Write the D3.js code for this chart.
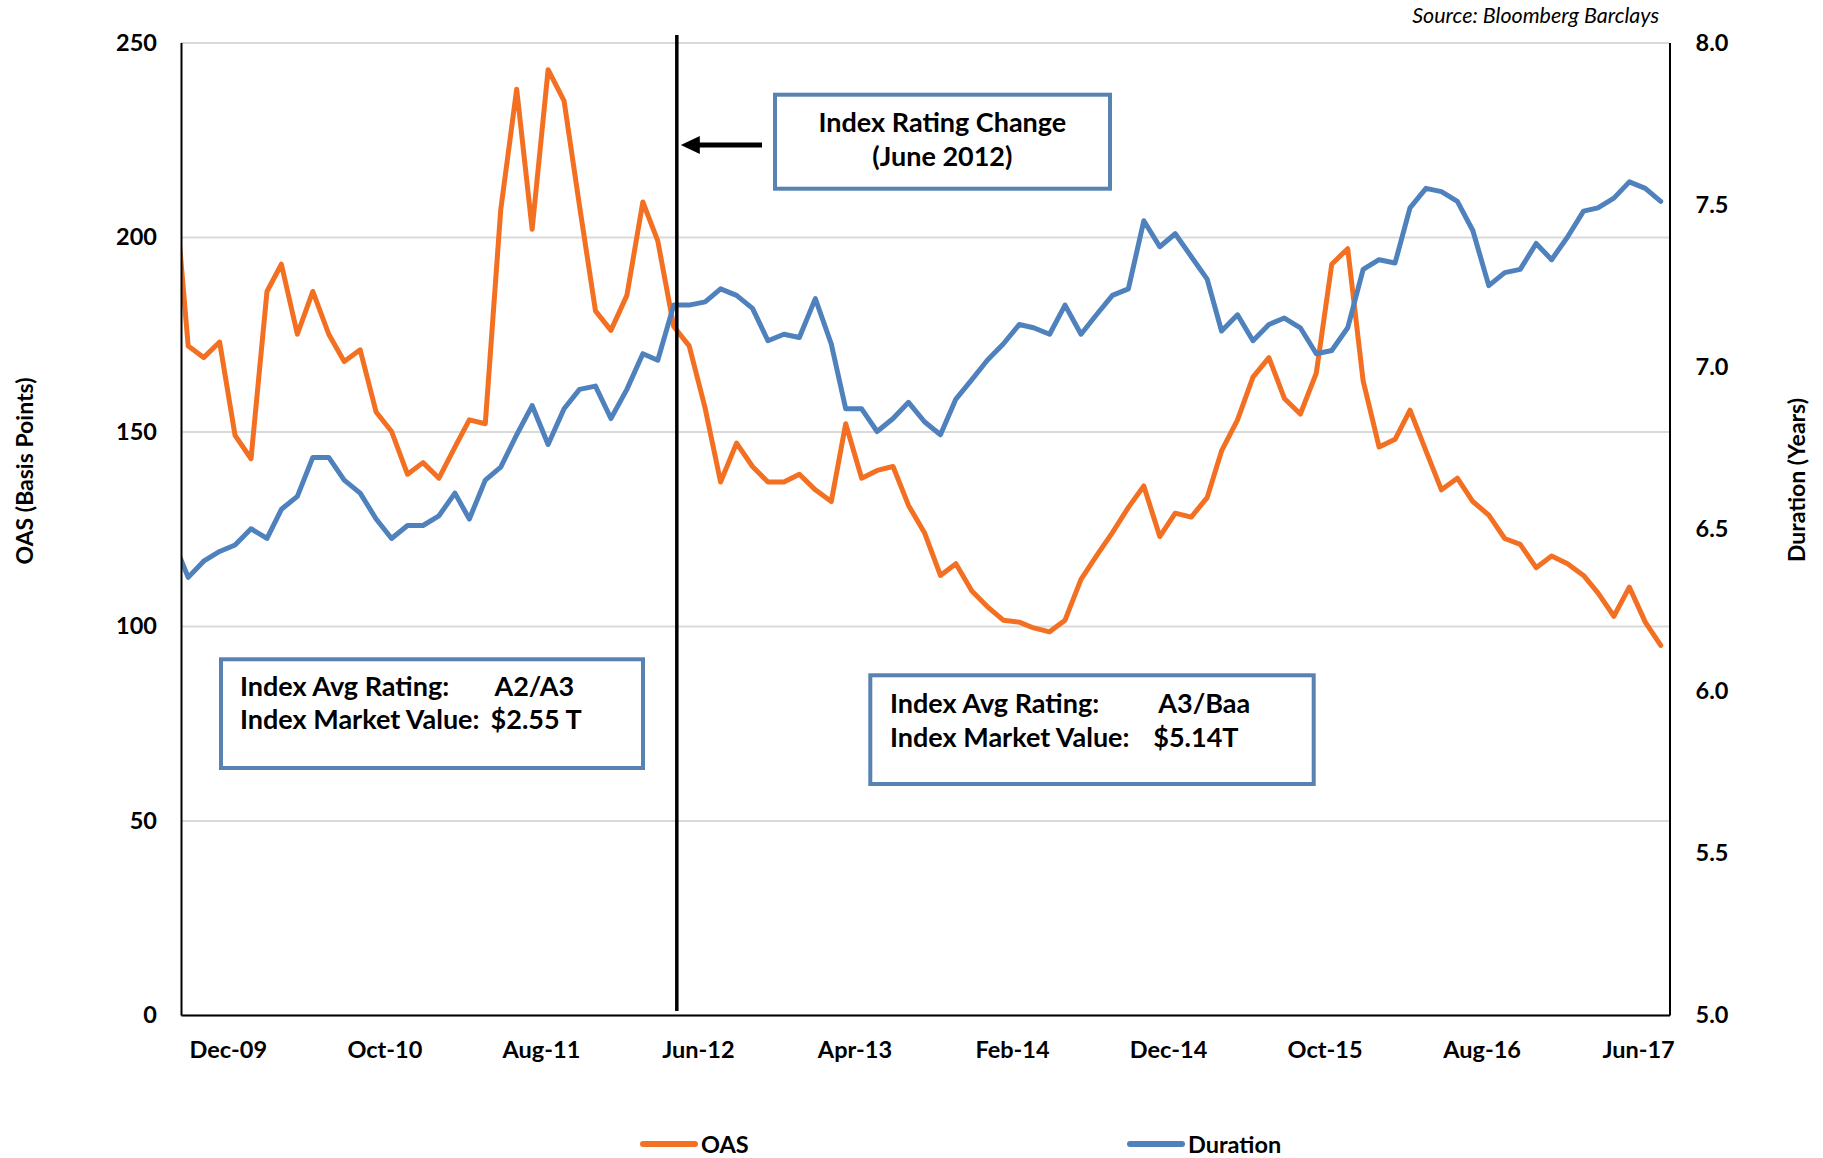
<!DOCTYPE html>
<html>
<head>
<meta charset="utf-8">
<script src="https://d3js.org/d3.v7.min.js"></script>
<style>
  body { margin: 0; background: #fff; }
  svg { font-family: Lato, "Open Sans", sans-serif; }
</style>
</head>
<body>
<svg id="chart"></svg>
<script>
    // monthly observations (first one sits just left of the axis and gets clipped)
    const months = [
        "2009-08", "2009-09", "2009-10", "2009-11", "2009-12",
        "2010-01", "2010-02", "2010-03", "2010-04", "2010-05", "2010-06", "2010-07", "2010-08", "2010-09", "2010-10", "2010-11", "2010-12",
        "2011-01", "2011-02", "2011-03", "2011-04", "2011-05", "2011-06", "2011-07", "2011-08", "2011-09", "2011-10", "2011-11", "2011-12",
        "2012-01", "2012-02", "2012-03", "2012-04", "2012-05", "2012-06", "2012-07", "2012-08", "2012-09", "2012-10", "2012-11", "2012-12",
        "2013-01", "2013-02", "2013-03", "2013-04", "2013-05", "2013-06", "2013-07", "2013-08", "2013-09", "2013-10", "2013-11", "2013-12",
        "2014-01", "2014-02", "2014-03", "2014-04", "2014-05", "2014-06", "2014-07", "2014-08", "2014-09", "2014-10", "2014-11", "2014-12",
        "2015-01", "2015-02", "2015-03", "2015-04", "2015-05", "2015-06", "2015-07", "2015-08", "2015-09", "2015-10", "2015-11", "2015-12",
        "2016-01", "2016-02", "2016-03", "2016-04", "2016-05", "2016-06", "2016-07", "2016-08", "2016-09", "2016-10", "2016-11", "2016-12",
        "2017-01", "2017-02", "2017-03", "2017-04", "2017-05", "2017-06", "2017-07"
    ]

    // OAS, basis points (left axis)
    const oas = [
        220, 172, 169, 173, 149, 143, 186, 193, 175, 186, 175, 168,
        171, 155, 150, 139, 142, 138, 146, 153, 152, 207, 238, 202,
        243, 235, 208, 181, 176, 185, 209, 199, 177, 172, 156, 137,
        147, 141, 137, 137, 139, 135, 132, 152, 138, 140, 141, 131,
        124, 113, 116, 109, 105, 101.5, 101, 99.5, 98.5, 101.5, 112, 118,
        124, 130.5, 136, 123, 129, 128, 133, 145, 153, 164, 169, 158.5,
        154.5, 165, 193, 197, 163, 146, 148, 155.5, 145, 135, 138, 132,
        128.5, 122.5, 121, 115, 118, 116, 113, 108.5, 102.5, 110, 101, 95
    ]

    // Duration, years (right axis)
    const duration = [
        6.47, 6.35, 6.40, 6.43, 6.45, 6.50, 6.47, 6.56, 6.60, 6.72, 6.72, 6.65,
        6.61, 6.53, 6.47, 6.51, 6.51, 6.54, 6.61, 6.53, 6.65, 6.69, 6.79, 6.88,
        6.76, 6.87, 6.93, 6.94, 6.84, 6.93, 7.04, 7.02, 7.19, 7.19, 7.20, 7.24,
        7.22, 7.18, 7.08, 7.10, 7.09, 7.21, 7.07, 6.87, 6.87, 6.80, 6.84, 6.89,
        6.83, 6.79, 6.90, 6.96, 7.02, 7.07, 7.13, 7.12, 7.10, 7.19, 7.10, 7.16,
        7.22, 7.24, 7.45, 7.37, 7.41, 7.34, 7.27, 7.11, 7.16, 7.08, 7.13, 7.15,
        7.12, 7.04, 7.05, 7.12, 7.30, 7.33, 7.32, 7.49, 7.55, 7.54, 7.51, 7.42,
        7.25, 7.29, 7.30, 7.38, 7.33, 7.40, 7.48, 7.49, 7.52, 7.57, 7.55, 7.51
    ]

    const xTickLabels = ["Dec-09", "Oct-10", "Aug-11", "Jun-12", "Apr-13", "Feb-14", "Dec-14", "Oct-15", "Aug-16", "Jun-17"]
    const leftTicks = [0, 50, 100, 150, 200, 250]
    const rightTicks = [5.0, 5.5, 6.0, 6.5, 7.0, 7.5, 8.0]

    const orange = "#F37022"
    const blue = "#4F81BD"
    const boxBlue = "#5782B1"

    let svg = d3.select('#chart')
        .attr("width", 1823)
        .attr("height", 1158)

    const plotL = 181, plotR = 1669.5, plotT = 42.5, plotB = 1015

    const parseYM = d3.timeParse("%Y-%m")
    const parseLabel = d3.timeParse("%b-%y")
    // points sit mid-month
    const dates = months.map(m => d3.timeDay.offset(parseYM(m), 14))

    const x = d3.scaleTime()
        .domain([new Date(2009, 8, 1), new Date(2017, 7, 1)])
        .range([plotL, plotR])
    const yL = d3.scaleLinear().domain([0, 250]).range([plotB, plotT])
    const yR = d3.scaleLinear().domain([5, 8]).range([plotB, plotT])

    // gridlines
    svg.append("g")
        .attr("transform", `translate(${plotL},0)`)
        .call(d3.axisLeft(yL).tickValues(leftTicks).tickSize(-(plotR - plotL)).tickFormat(""))
        .call(g => g.select(".domain").remove())
        .selectAll("line")
        .attr("stroke", "#d9d9d9")
        .attr("stroke-width", 2)

    svg.append("defs").append("clipPath").attr("id", "plot")
        .append("rect")
        .attr("x", plotL).attr("y", 0)
        .attr("width", plotR - plotL).attr("height", 1158)

    const lineL = d3.line().x((d, i) => x(dates[i])).y(d => yL(d))
    const lineR = d3.line().x((d, i) => x(dates[i])).y(d => yR(d))

    svg.append("path")
        .datum(oas)
        .attr("clip-path", "url(#plot)")
        .attr("d", lineL)
        .attr("fill", "none")
        .attr("stroke", orange)
        .attr("stroke-width", 5)
        .attr("stroke-linejoin", "round")
        .attr("stroke-linecap", "round")

    svg.append("path")
        .datum(duration)
        .attr("clip-path", "url(#plot)")
        .attr("d", lineR)
        .attr("fill", "none")
        .attr("stroke", blue)
        .attr("stroke-width", 5)
        .attr("stroke-linejoin", "round")
        .attr("stroke-linecap", "round")

    // axes
    function styleAxis(g) {
        g.attr("font-family", null).attr("font-size", null)
        g.select(".domain").attr("stroke", "black").attr("stroke-width", 2)
        g.selectAll("text")
            .attr("fill", "black")
            .style("font-size", "23.5px")
            .style("font-weight", "bold")
    }

    svg.append("g")
        .attr("transform", `translate(${plotL},0)`)
        .call(d3.axisLeft(yL).tickValues(leftTicks).tickSize(0).tickSizeOuter(0).tickPadding(24))
        .call(styleAxis)

    svg.append("g")
        .attr("transform", `translate(${plotR},0)`)
        .call(d3.axisRight(yR).tickValues(rightTicks).tickSize(0).tickSizeOuter(0).tickPadding(26)
            .tickFormat(d3.format(".1f")))
        .call(styleAxis)

    svg.append("g")
        .attr("transform", `translate(0,${plotB})`)
        .call(d3.axisBottom(x).tickValues(xTickLabels.map(parseLabel)).tickSize(0).tickSizeOuter(0).tickPadding(26)
            .tickFormat(d3.timeFormat("%b-%y")))
        .call(styleAxis)

    // axis titles
    svg.append("text")
        .attr("transform", "translate(33,471) rotate(-90)")
        .attr("text-anchor", "middle")
        .style("font-size", "23px")
        .style("font-weight", "bold")
        .text("OAS (Basis  Points)")

    svg.append("text")
        .attr("transform", "translate(1805,480) rotate(-90)")
        .attr("text-anchor", "middle")
        .style("font-size", "23px")
        .style("font-weight", "bold")
        .text("Duration (Years)")

    svg.append("text")
        .attr("x", 1659)
        .attr("y", 23)
        .attr("text-anchor", "end")
        .style("font-size", "21.5px")
        .style("font-style", "italic")
        .text("Source: Bloomberg Barclays")

    // rating change marker
    const ratingChange = new Date(2012, 3, 21)
    const xc = x(ratingChange)
    svg.append("line")
        .attr("x1", xc).attr("x2", xc)
        .attr("y1", 35).attr("y2", 1011)
        .attr("stroke", "black")
        .attr("stroke-width", 3.5)

    svg.append("line")
        .attr("x1", xc + 20).attr("x2", 762)
        .attr("y1", 145).attr("y2", 145)
        .attr("stroke", "black")
        .attr("stroke-width", 5)
    svg.append("polygon")
        .attr("points", `${xc + 4},145 ${xc + 23},136 ${xc + 23},154`)
        .attr("fill", "black")

    // text boxes
    function box(x0, y0, w, h) {
        svg.append("rect")
            .attr("x", x0).attr("y", y0)
            .attr("width", w).attr("height", h)
            .attr("fill", "white")
            .attr("stroke", boxBlue)
            .attr("stroke-width", 4)
    }
    function label(tx, ty, s, anchor) {
        svg.append("text")
            .attr("x", tx).attr("y", ty)
            .attr("text-anchor", anchor || "start")
            .style("font-size", "27px")
            .style("font-weight", "bold")
            .text(s)
    }

    box(775, 94.7, 335, 94)
    label(942.4, 131.7, "Index Rating Change", "middle")
    label(942.4, 165.7, "(June 2012)", "middle")

    box(221, 659.3, 422, 108.7)
    label(240, 695.7, "Index Avg Rating:")
    label(494.4, 695.7, "A2/A3")
    label(240, 729.3, "Index Market Value:")
    label(490.6, 729.3, "$2.55  T")

    box(870.3, 675.3, 443.4, 108.7)
    label(890, 713.3, "Index Avg Rating:")
    label(1158.3, 713.3, "A3/Baa")
    label(890, 746.7, "Index Market Value:")
    label(1153.3, 746.7, "$5.14T")

    // legend
    const legend = [
        {name: "OAS", color: orange, x0: 643},
        {name: "Duration", color: blue, x0: 1130}
    ]
    let lg = svg.selectAll(".legend")
        .data(legend)
        .enter().append("g")
        .attr("class", "legend")
    lg.append("line")
        .attr("x1", d => d.x0).attr("x2", d => d.x0 + 52)
        .attr("y1", 1144).attr("y2", 1144)
        .attr("stroke", d => d.color)
        .attr("stroke-width", 6)
        .attr("stroke-linecap", "round")
    lg.append("text")
        .attr("x", d => d.x0 + 58)
        .attr("y", 1152.7)
        .style("font-size", "23.5px")
        .style("font-weight", "bold")
        .text(d => d.name)
</script>
</body>
</html>
